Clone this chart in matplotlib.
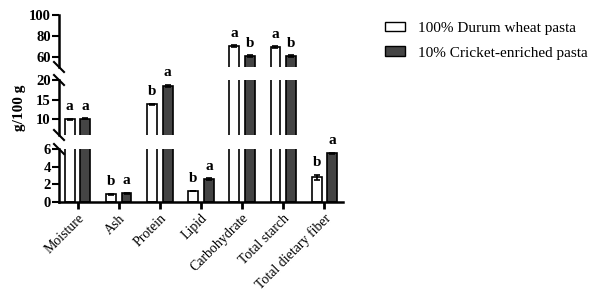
import numpy as np
import matplotlib
matplotlib.use('Agg')
import matplotlib.pyplot as plt
from matplotlib.patches import Patch

categories = ['Moisture', 'Ash', 'Protein', 'Lipid', 'Carbohydrate', 'Total starch', 'Total dietary fiber']
durum = [10.0, 0.85, 13.8, 1.25, 70.5, 69.8, 2.8]
durum_err = [0.1, 0.05, 0.2, 0.05, 0.8, 0.6, 0.3]
cricket = [10.1, 1.0, 18.5, 2.6, 61.2, 61.3, 5.5]
cricket_err = [0.1, 0.05, 0.3, 0.1, 0.7, 0.8, 0.1]
letters_durum = ['a', 'b', 'b', 'b', 'a', 'a', 'b']
letters_cricket = ['a', 'a', 'a', 'a', 'b', 'b', 'a']
legend_labels = ['100% Durum wheat pasta', '10% Cricket-enriched pasta']

plt.rcParams['font.family'] = ['Liberation Serif', 'DejaVu Serif']

W, H = 600, 303
fig = plt.figure(figsize=(W / 100, H / 100), dpi=100)

# segments: (pixel top, pixel bottom, ylim, ticks)
segments = [
    (15, 67, (51, 100), [60, 80, 100]),
    (80, 135, (6, 20), [10, 15, 20]),
    (149, 202, (0, 6), [0, 2, 4, 6]),
]
left, right = 59, 343
x = np.arange(len(categories))
off = 0.19
bw = 0.24
dark = '#444444'

axes = []
for top, bot, ylim, ticks in segments:
    ax = fig.add_axes([left / W, 1 - bot / H, (right - left) / W, (bot - top) / H])
    ax.bar(x - off, durum, bw, color='white', edgecolor='black', linewidth=1.2, zorder=2)
    ax.bar(x + off, cricket, bw, color=dark, edgecolor='black', linewidth=1.2, zorder=2)
    ax.errorbar(x - off, durum, yerr=durum_err, fmt='none', ecolor='black', elinewidth=1.2, capsize=2.5, capthick=1.2, zorder=3)
    ax.errorbar(x + off, cricket, yerr=cricket_err, fmt='none', ecolor='black', elinewidth=1.2, capsize=2.5, capthick=1.2, zorder=3)
    ax.set_ylim(*ylim)
    ax.set_xlim(-0.45, 6.45)
    ax.set_yticks(ticks)
    ax.tick_params(axis='y', direction='out', length=5, width=1.5, labelsize=10.5, pad=1)
    for lab in ax.get_yticklabels():
        lab.set_fontweight('bold')
    for s in ['top', 'right']:
        ax.spines[s].set_visible(False)
    ax.spines['left'].set_linewidth(1.8)
    ax.patch.set_alpha(0)
    axes.append(ax)

for ax in axes[:2]:
    ax.spines['bottom'].set_visible(False)
    ax.set_xticks([])

axb = axes[2]
axb.spines['bottom'].set_linewidth(1.8)
axb.set_xticks(x)
axb.set_xticklabels(categories, rotation=45, ha='right', rotation_mode='anchor', fontsize=10)
axb.tick_params(axis='x', direction='out', length=5, width=2, pad=2)

# significance letters on the segment where each bar ends
for i in range(len(categories)):
    for xs, v, e, let in [(x[i] - off, durum[i], durum_err[i], letters_durum[i]),
                          (x[i] + off, cricket[i], cricket_err[i], letters_cricket[i])]:
        for (top, bot, ylim, ticks), ax in zip(segments, axes):
            if ylim[0] <= v <= ylim[1]:
                ax.annotate(let, (xs, v + e), xytext=(0, 4), textcoords='offset points',
                            ha='center', va='bottom', fontsize=11, fontweight='bold',
                            annotation_clip=False)
                break

# break marks on the y axis
d = 5
for top, bot, ylim, ticks in segments:
    for yp, has in [(top, top != 15), (bot, bot != 202)]:
        if not has:
            continue
        fig.add_artist(plt.Line2D([(left - d) / W, (left + d) / W],
                                  [1 - (yp - d) / H, 1 - (yp + d) / H],
                                  color='black', linewidth=1.5))

fig.text(20 / W, 1 - 108 / H, 'g/100 g', rotation=90, ha='center', va='center',
         fontsize=11, fontweight='bold')

handles = [Patch(facecolor='white', edgecolor='black', linewidth=1),
           Patch(facecolor=dark, edgecolor='black', linewidth=1)]
fig.legend(handles, legend_labels, loc='upper left', bbox_to_anchor=(371 / W, 1 - 8 / H),
           frameon=False, fontsize=11, handlelength=1.3, handleheight=0.6,
           labelspacing=0.75, handletextpad=0.85)

fig.savefig('out.png', dpi=100)
